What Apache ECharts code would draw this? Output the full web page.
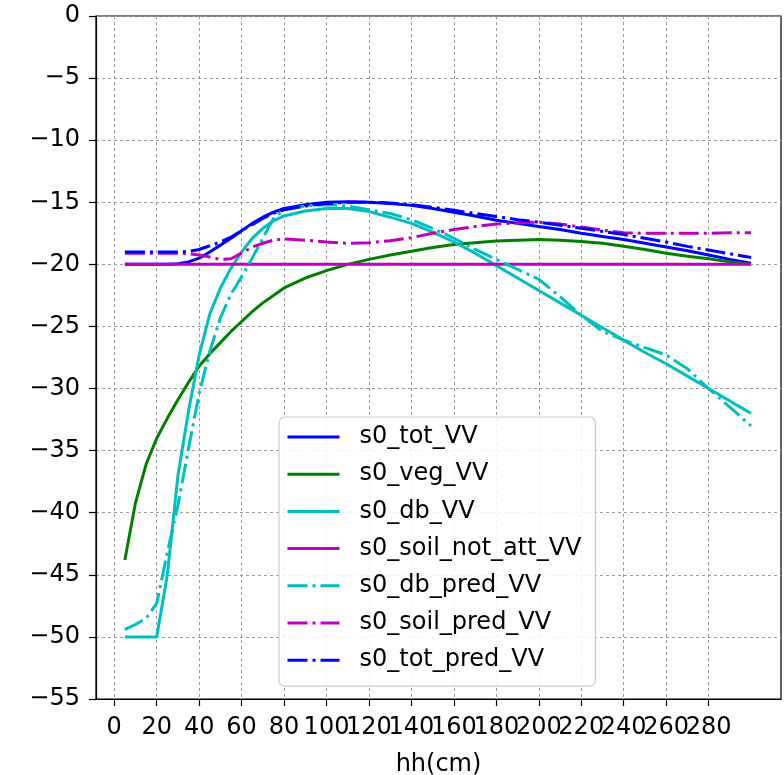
<!DOCTYPE html>
<html>
<head>
<meta charset="utf-8">
<script src="https://cdn.jsdelivr.net/npm/echarts@6/dist/echarts.min.js"></script>
<style>html,body{margin:0;padding:0;background:#fff;}#c{width:784px;height:775px;}</style>
</head>
<body>
<div id="c"></div>
<script>
const hh = [5,10,15,20,25,30,35,40,45,50,55,60,65,70,75,80,90,100,110,120,130,140,150,160,170,180,190,200,210,220,230,240,250,260,270,280,290,300];

const s0_tot_VV = [-20.0,-20.0,-20.0,-20.0,-20.0,-19.95,-19.8,-19.5,-19.0,-18.45,-17.9,-17.3,-16.7,-16.2,-15.8,-15.5,-15.2,-15.0,-14.95,-15.0,-15.1,-15.25,-15.5,-15.8,-16.1,-16.45,-16.7,-16.95,-17.2,-17.5,-17.75,-18.0,-18.3,-18.6,-18.9,-19.25,-19.6,-19.9];
const s0_veg_VV = [-43.8,-39.2,-36.1,-34.0,-32.4,-30.9,-29.5,-28.2,-27.2,-26.3,-25.4,-24.6,-23.8,-23.1,-22.5,-21.9,-21.1,-20.5,-20.0,-19.6,-19.25,-18.95,-18.65,-18.4,-18.25,-18.12,-18.05,-18.0,-18.05,-18.15,-18.3,-18.55,-18.8,-19.1,-19.35,-19.55,-19.8,-20.0];
const s0_db_VV = [-50,-50,-50,-50,-45.0,-37.0,-31.8,-27.3,-24.0,-21.9,-20.3,-19.0,-17.9,-17.1,-16.5,-16.1,-15.7,-15.5,-15.5,-15.75,-16.2,-16.7,-17.4,-18.2,-19.1,-20.1,-21.1,-22.1,-23.1,-24.1,-25.1,-26.1,-27.1,-28.0,-29.0,-30.0,-31.0,-32.0];
const s0_soil_not_att_VV = [-20,-20,-20,-20,-20,-20,-20,-20,-20,-20,-20,-20,-20,-20,-20,-20,-20,-20,-20,-20,-20,-20,-20,-20,-20,-20,-20,-20,-20,-20,-20,-20,-20,-20,-20,-20,-20,-20];
const s0_db_pred_VV = [-49.4,-49.0,-48.5,-47.3,-43.2,-39.4,-34.8,-30.4,-27.0,-24.3,-22.4,-21.0,-19.5,-17.9,-16.3,-15.6,-15.3,-15.2,-15.3,-15.6,-15.9,-16.4,-17.1,-17.9,-18.8,-19.6,-20.4,-21.2,-22.6,-24.1,-25.4,-26.1,-26.7,-27.3,-28.4,-30.0,-31.5,-33.0];
const s0_soil_pred_VV = [-19.1,-19.1,-19.1,-19.1,-19.1,-19.1,-19.15,-19.25,-19.4,-19.6,-19.55,-19.1,-18.6,-18.3,-18.05,-17.95,-18.05,-18.2,-18.3,-18.25,-18.1,-17.85,-17.5,-17.2,-16.95,-16.75,-16.65,-16.6,-16.75,-17.0,-17.25,-17.45,-17.5,-17.5,-17.5,-17.5,-17.45,-17.45];
const s0_tot_pred_VV = [-19.0,-19.0,-19.0,-19.0,-19.0,-19.0,-18.95,-18.8,-18.5,-18.2,-17.8,-17.3,-16.8,-16.3,-15.9,-15.6,-15.3,-15.1,-15.0,-15.0,-15.05,-15.2,-15.4,-15.65,-15.9,-16.15,-16.4,-16.6,-16.85,-17.1,-17.35,-17.6,-17.9,-18.2,-18.55,-18.85,-19.15,-19.45];

const xTicks = [0,20,40,60,80,100,120,140,160,180,200,220,240,260,280];
const xLabel = 'hh(cm)';

const seriesDefs = [
  {name:'s0_tot_VV', vals:s0_tot_VV, color:'#0000ff', dash:false},
  {name:'s0_veg_VV', vals:s0_veg_VV, color:'#008000', dash:false},
  {name:'s0_db_VV', vals:s0_db_VV, color:'#00bfbf', dash:false},
  {name:'s0_soil_not_att_VV', vals:s0_soil_not_att_VV, color:'#bf00bf', dash:false},
  {name:'s0_db_pred_VV', vals:s0_db_pred_VV, color:'#00bfbf', dash:true},
  {name:'s0_soil_pred_VV', vals:s0_soil_pred_VV, color:'#bf00bf', dash:true},
  {name:'s0_tot_pred_VV', vals:s0_tot_pred_VV, color:'#0000ff', dash:true}
];

const FONT = 'DejaVu Sans';
const FS = 24;
const gridLine = {show:true, lineStyle:{color:'#9a9a9a', width:1, type:[3,3]}};
const DASHDOT = [20,5,3,5];
const X_MIN = -8.6, X_MAX = 314.1;

// split labels over two overlaid axes so the crowded labels are all drawn
const xLabelsA = xTicks.filter((v,i) => i % 2 === 0);
const xLabelsB = xTicks.filter((v,i) => i % 2 === 1);
const xLabelStyle = {margin:17, fontFamily:FONT, fontSize:FS, color:'#000',
  hideOverlap:false, showMinLabel:true, showMaxLabel:true};

const chart = echarts.init(document.getElementById('c'), null, {renderer:'canvas'});
chart.setOption({
  animation:false,
  backgroundColor:'#ffffff',
  grid:{left:96, top:16, right:3, bottom:76, containLabel:false, outerBoundsMode:'none',
        show:true, borderColor:'#000', borderWidth:1.2, backgroundColor:'transparent'},
  xAxis:[{
    type:'value', min:X_MIN, max:X_MAX, position:'bottom',
    name:xLabel, nameLocation:'middle', nameGap:54,
    nameTextStyle:{fontFamily:FONT, fontSize:FS, color:'#000'},
    axisLine:{show:true, onZero:false, lineStyle:{color:'#000', width:1.2}},
    axisTick:{show:true, length:7, customValues:xTicks, lineStyle:{color:'#000', width:1.2}},
    axisLabel:Object.assign({customValues:xLabelsA}, xLabelStyle),
    splitLine:gridLine
  },{
    type:'value', min:X_MIN, max:X_MAX, position:'bottom', offset:0,
    axisLine:{show:false, onZero:false},
    axisTick:{show:false, customValues:xLabelsB},
    axisLabel:Object.assign({customValues:xLabelsB}, xLabelStyle),
    splitLine:{show:false}
  }],
  yAxis:{
    type:'value', min:-55, max:0, interval:5,
    axisLine:{show:true, onZero:false, lineStyle:{color:'#000', width:1.2}},
    axisTick:{show:true, length:7, lineStyle:{color:'#000', width:1.2}},
    axisLabel:{margin:16, fontFamily:FONT, fontSize:FS, color:'#000',
      formatter:v => v < 0 ? '\u2212' + Math.abs(v) : String(v)},
    splitLine:gridLine
  },
  legend:{
    orient:'vertical', left:279, top:417,
    itemWidth:52, itemHeight:14, itemGap:11.2,
    padding:[7,14,13,7],
    backgroundColor:'rgba(255,255,255,0.85)', borderColor:'#cccccc', borderWidth:1.2, borderRadius:6,
    itemStyle:{opacity:0},
    lineStyle:{width:3},
    textStyle:{fontFamily:FONT, fontSize:FS, color:'#000', lineHeight:26, padding:[0,0,0,15]},
    data:seriesDefs.map(s => s.name)
  },
  series:seriesDefs.map(s => ({
    name:s.name, type:'line', symbol:'none', showSymbol:false, xAxisIndex:0,
    data:hh.map((x,i) => [x, s.vals[i]]),
    lineStyle:{color:s.color, width:3, type:s.dash ? DASHDOT : 'solid'},
    itemStyle:{color:s.color},
    emphasis:{disabled:true}
  }))
});
</script>
</body>
</html>
